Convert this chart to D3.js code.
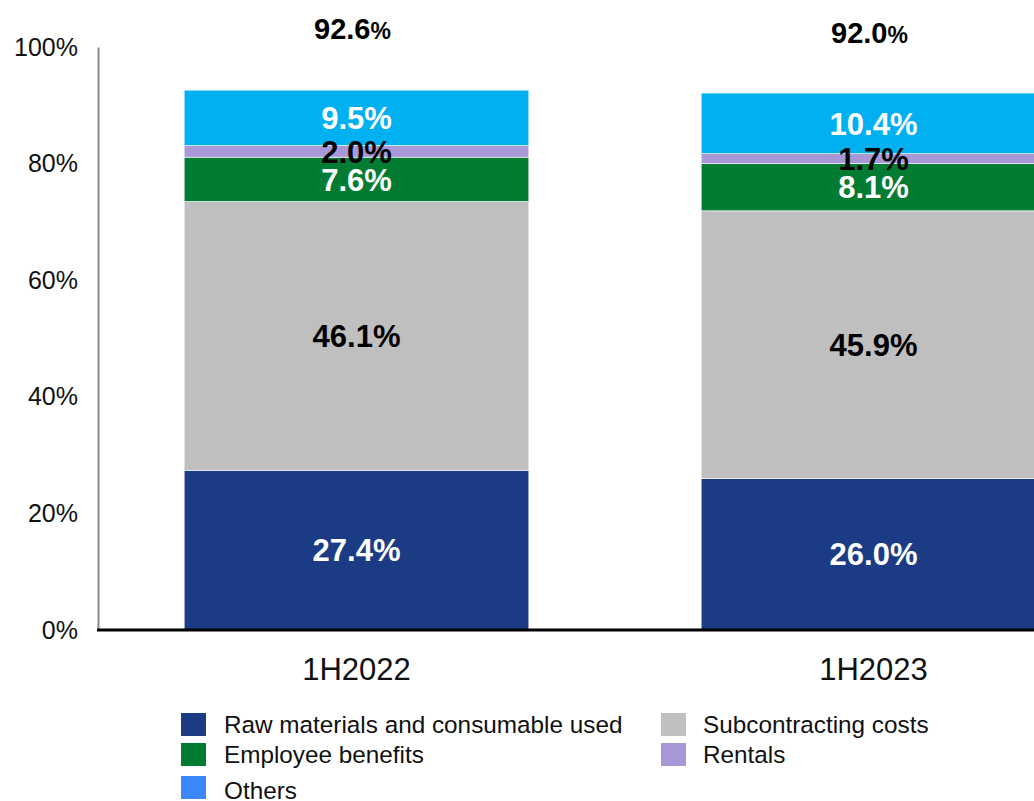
<!DOCTYPE html>
<html>
<head>
<meta charset="utf-8">
<script src="https://cdn.jsdelivr.net/npm/d3@7"></script>
<style>
  html, body { margin: 0; padding: 0; background: #fff; }
  svg { display: block; font-family: "Liberation Sans", Arial, sans-serif; }
</style>
</head>
<body>
<svg id="chart" width="1034" height="801"></svg>
<script>
// Cost breakdown as a share of revenue
const periods = ["1H2022", "1H2023"];
const seriesNames = ["Raw materials and consumable used", "Subcontracting costs", "Employee benefits", "Rentals", "Others"];
const rawMaterials = [27.4, 26.0];
const subcontracting = [46.1, 45.9];
const employeeBenefits = [7.6, 8.1];
const rentals = [2.0, 1.7];
const others = [9.5, 10.4];
const totals = [92.6, 92.0];
const yTicks = [0, 20, 40, 60, 80, 100];

const seriesValues = [rawMaterials, subcontracting, employeeBenefits, rentals, others];
const barColors = ["#1b3c84", "#bfbfbf", "#027b33", "#a898d8", "#00b0f0"];
const legendColors = ["#1b3c84", "#bfbfbf", "#027b33", "#a898d8", "#3b88fd"];
const labelColors = ["#ffffff", "#000000", "#ffffff", "#000000", "#ffffff"];

const svg = d3.select("#chart");
const axisX = 98, baseY = 630, topY = 47;

const x = d3.scaleBand()
  .domain(periods)
  .range([axisX, axisX + 1034])
  .paddingInner(1 / 3)
  .paddingOuter(1 / 6);

const y = d3.scaleLinear().domain([0, 100]).range([baseY, topY]);

// stack rows: one object per period
const rows = periods.map((p, i) => {
  const r = { period: p };
  seriesNames.forEach((s, k) => { r[s] = seriesValues[k][i]; });
  return r;
});
const stacked = d3.stack().keys(seriesNames)(rows);

// bars
const layers = svg.append("g").selectAll("g")
  .data(stacked)
  .join("g")
  .attr("fill", (d, k) => barColors[k]);

layers.selectAll("rect")
  .data(d => d)
  .join("rect")
  .attr("x", d => x(d.data.period))
  .attr("width", x.bandwidth())
  .attr("y", d => y(d[1]))
  .attr("height", d => y(d[0]) - y(d[1]))
  .attr("stroke", "#ffffff")
  .attr("stroke-width", 0.6);

// segment labels
stacked.forEach((layer, k) => {
  svg.append("g").selectAll("text")
    .data(layer)
    .join("text")
    .attr("x", d => x(d.data.period) + x.bandwidth() / 2)
    .attr("y", d => (y(d[0]) + y(d[1])) / 2)
    .attr("dy", "0.36em")
    .attr("text-anchor", "middle")
    .attr("font-size", 31)
    .attr("font-weight", "bold")
    .attr("fill", labelColors[k])
    .text(d => d.data[layer.key].toFixed(1) + "%");
});

// y axis
const yAxis = d3.axisLeft(y)
  .tickValues(yTicks)
  .tickFormat(d => d + "%")
  .tickSize(0)
  .tickPadding(20);

const gy = svg.append("g")
  .attr("transform", `translate(${axisX},0)`)
  .call(yAxis);
gy.select(".domain").attr("stroke", "#878787").attr("stroke-width", 2);
gy.selectAll("text")
  .attr("font-size", 25)
  .attr("font-family", "\"Liberation Sans\", Arial, sans-serif")
  .attr("fill", "#111");

// x axis (baseline and period labels)
const xAxis = d3.axisBottom(x).tickSize(0).tickPadding(28);
const gx = svg.append("g")
  .attr("transform", `translate(0,${baseY})`)
  .call(xAxis);
gx.select(".domain").remove();
gx.selectAll("text")
  .attr("font-size", 31)
  .attr("font-family", "\"Liberation Sans\", Arial, sans-serif")
  .attr("fill", "#111");
svg.append("line")
  .attr("x1", axisX - 1).attr("x2", 1034)
  .attr("y1", baseY).attr("y2", baseY)
  .attr("stroke", "#000").attr("stroke-width", 3);

// totals above bars
const totalText = svg.append("g").selectAll("text")
  .data(periods)
  .join("text")
  .attr("x", p => x(p) + x.bandwidth() / 2 - 4)
  .attr("y", (p, i) => y(totals[i]) - 51)
  .attr("text-anchor", "middle")
  .attr("fill", "#000");
totalText.append("tspan")
  .attr("font-size", 29)
  .attr("font-weight", "bold")
  .text((p, i) => totals[i].toFixed(1));
totalText.append("tspan")
  .attr("font-size", 23)
  .attr("font-weight", "bold")
  .text("%");

// legend: two columns, three rows
const legendCols = [181, 661];
const legendRows = [713, 743, 776];
const legendItems = [
  { i: 0, col: 0, row: 0 },
  { i: 1, col: 1, row: 0 },
  { i: 2, col: 0, row: 1 },
  { i: 3, col: 1, row: 1 },
  { i: 4, col: 0, row: 2 }
];
const lg = svg.append("g").selectAll("g")
  .data(legendItems)
  .join("g")
  .attr("transform", d => `translate(${legendCols[d.col]},${legendRows[d.row]})`);
lg.append("rect")
  .attr("width", 25).attr("height", 23)
  .attr("fill", d => legendColors[d.i]);
lg.append("text")
  .attr("x", d => d.col === 0 ? 43 : 42)
  .attr("y", d => d.row === 2 ? 23 : 20)
  .attr("font-size", 24.3)
  .attr("fill", "#111")
  .text(d => seriesNames[d.i]);
</script>
</body>
</html>
